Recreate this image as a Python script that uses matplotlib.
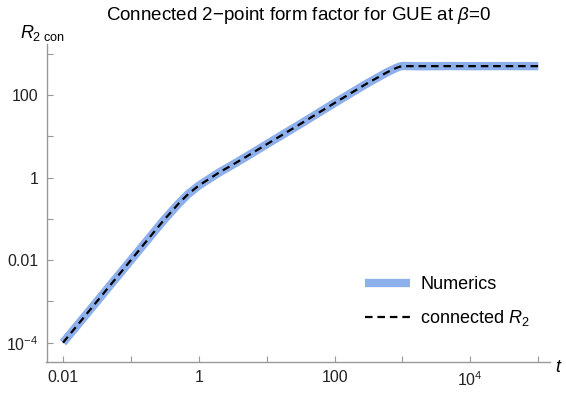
import matplotlib.pyplot as plt
from matplotlib.ticker import FixedLocator, FixedFormatter, NullLocator

# values
t_vals = [0.01, 0.02, 0.05, 0.1, 0.2, 0.3, 0.5, 0.7, 1.0, 1.5, 2, 3, 5, 10, 30,
          100, 300, 600, 800, 900, 1000, 2000, 5000, 1e4, 3e4, 1e5]
r2_theory = [1e-4, 4e-4, 2.5e-3, 0.01, 0.04, 0.09, 0.23, 0.40, 0.64, 0.98, 1.33,
             1.95, 3.2, 6.4, 19, 64, 190, 358, 448, 481, 500, 500, 500, 500,
             500, 500]
r2_numerics = [1e-4, 4e-4, 2.5e-3, 0.01, 0.04, 0.09, 0.23, 0.40, 0.64, 0.98, 1.33,
               1.95, 3.2, 6.4, 19, 64, 190, 358, 448, 485, 505, 495, 503, 498,
               502, 499]

y_ticks = [1e-4, 1e-3, 0.01, 0.1, 1, 10, 100, 1000]
y_labels = [r'$10^{-4}$', '', '0.01', '', '1', '', '100', '']
x_ticks = [0.01, 0.1, 1, 10, 100, 1000, 1e4, 1e5]
x_labels = ['0.01', '', '1', '', '100', '', r'$10^{4}$', '']

plt.rcParams['font.family'] = ['Liberation Sans', 'DejaVu Sans']
plt.rcParams['mathtext.fontset'] = 'custom'
plt.rcParams['mathtext.rm'] = 'Liberation Sans'
plt.rcParams['mathtext.it'] = 'Liberation Sans:italic'

fig = plt.figure(figsize=(5.66, 3.98), dpi=100)
ax = fig.add_axes([46.5 / 566, 1 - 362 / 398, (550 - 46.5) / 566, (362 - 44) / 398])

ax.plot(t_vals, r2_numerics, color='#8db0ec', lw=6, solid_capstyle='butt',
        label='Numerics')
ax.plot(t_vals, r2_theory, color='black', lw=1.6, dashes=(3.4, 2.2),
        label=r'connected $R_2$')

ax.set_xscale('log')
ax.set_yscale('log')
ax.set_xlim(0.00571, 1.49e5)
ax.set_ylim(3.4e-5, 1718)

ax.xaxis.set_major_locator(FixedLocator(x_ticks))
ax.xaxis.set_major_formatter(FixedFormatter(x_labels))
ax.yaxis.set_major_locator(FixedLocator(y_ticks))
ax.yaxis.set_major_formatter(FixedFormatter(y_labels))
ax.xaxis.set_minor_locator(NullLocator())
ax.yaxis.set_minor_locator(NullLocator())

for side in ['top', 'right']:
    ax.spines[side].set_visible(False)
for side in ['left', 'bottom']:
    ax.spines[side].set_color('#999999')
    ax.spines[side].set_linewidth(1.0)
ax.tick_params(direction='in', length=4, width=0.8, color='#999999',
               labelsize=11.5, labelcolor='#222222', pad=6)

ax.set_title(r'Connected 2$-$point form factor for GUE at $\beta$=0',
             fontsize=13.5, pad=17)
fig.text(20 / 566, 1 - 33 / 398, r'$R_{2\ \mathrm{con}}$', fontsize=13,
         va='center', ha='left')
fig.text(555 / 566, 1 - 367 / 398, r'$t$', fontsize=13, va='center', ha='left')

ax.legend(loc='center left', bbox_to_anchor=(349 / 566, 1 - 302 / 398),
          bbox_transform=fig.transFigure, frameon=False, fontsize=13,
          handlelength=2.5, labelspacing=0.85, handletextpad=0.55)

fig.savefig('out.png', dpi=100)
